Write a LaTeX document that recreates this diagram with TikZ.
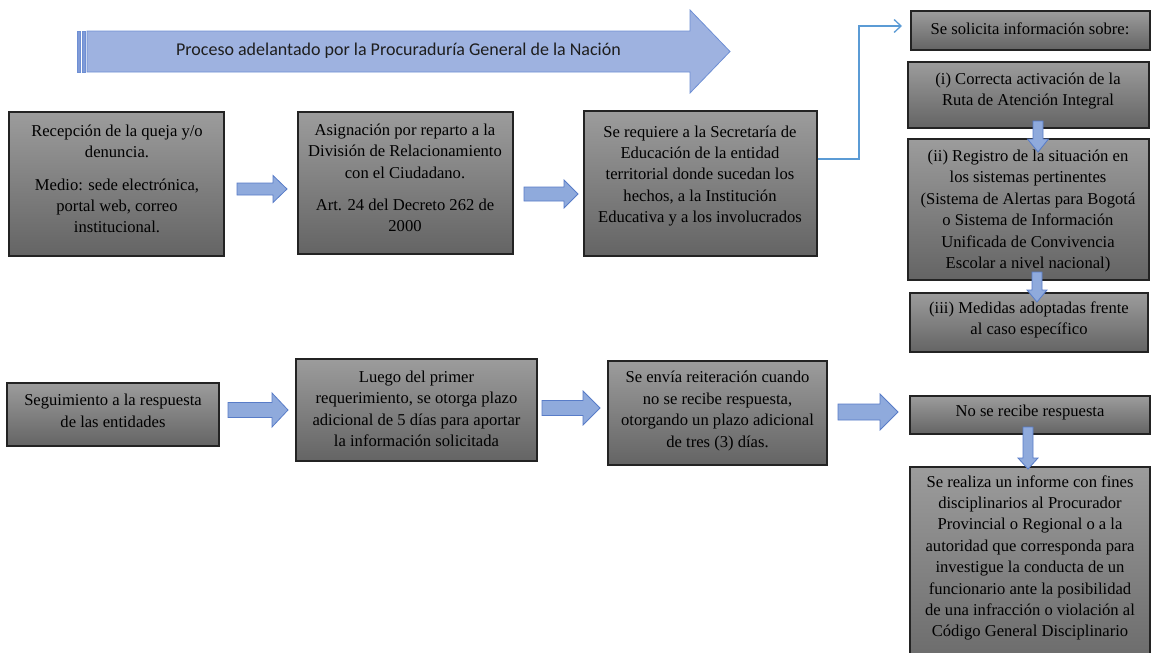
\documentclass[tikz,border=0pt]{standalone}
\usepackage{fontspec}
\setmainfont{Liberation Serif}
\newfontfamily\calfont{Carlito}
\usetikzlibrary{arrows.meta,calc}
\definecolor{boxline}{RGB}{35,35,35}
\definecolor{boxtop}{RGB}{156,156,156}
\definecolor{boxbot}{RGB}{100,100,100}
\definecolor{arrfill}{RGB}{143,170,220}
\definecolor{arrline}{RGB}{88,124,200}
\definecolor{bigfill}{RGB}{158,178,224}
\definecolor{bigline}{RGB}{110,143,212}
\definecolor{stripefill}{RGB}{128,155,215}
\definecolor{connc}{RGB}{91,155,213}
\tikzset{
  gbox/.style={draw=boxline, line width=1.3pt, top color=boxtop, bottom color=boxbot, inner sep=0pt, rectangle},
  txt/.style={font=\fontsize{16.6}{21.4}\selectfont, align=center, inner sep=0pt, text=black},
  barrow/.style={draw=arrline, fill=arrfill, line width=0.8pt, line join=miter},
  conn/.style={draw=connc, line width=1.3pt, -{Straight Barb[length=7pt,width=13pt,line width=1.3pt]}},
}
\newcommand\mkbox[5]{\node[gbox, minimum width={#4-#2}, minimum height={#5-#3}] (#1) at ({(#2+#4)/2},{(#3+#5)/2}) {};}
\newcommand\harrow[6]{\draw[barrow] (#1,{#3-#4}) -- ({#2-#6},{#3-#4}) -- ({#2-#6},{#3-#5}) -- (#2,#3) -- ({#2-#6},{#3+#5}) -- ({#2-#6},{#3+#4}) -- (#1,{#3+#4}) -- cycle;}
\newcommand\varrow[6]{\draw[barrow] ({#3-#4},#1) -- ({#3-#4},{#2-#6}) -- ({#3-#5},{#2-#6}) -- (#3,#2) -- ({#3+#5},{#2-#6}) -- ({#3+#4},{#2-#6}) -- ({#3+#4},#1) -- cycle;}
\begin{document}
\begin{tikzpicture}[x=1pt,y=-1pt]
\useasboundingbox (0,0) rectangle (1151,653);
\clip (0,0) rectangle (1151,653);
\fill[white] (0,0) rectangle (1151,653);
% top process arrow
\draw[draw=bigline, fill=stripefill, line width=0.8pt] (77,31) rectangle (80,72);
\draw[draw=bigline, fill=stripefill, line width=0.8pt] (82,31) rectangle (85,72);
\draw[draw=bigline, fill=bigfill, line width=0.8pt, line join=miter] (87,31) -- (690,31) -- (690,10) -- (730,51.5) -- (690,93) -- (690,72) -- (87,72) -- cycle;
\node[font=\calfont\fontsize{18}{22}\selectfont, text={rgb,255:red,30;green,30;blue,30}, inner sep=0pt] (title) at (398.5,51) {Proceso adelantado por la Procuraduría General de la Nación};
% row 1 boxes
\mkbox{A}{9}{112}{224}{256}
\mkbox{B}{298}{112}{513}{254}
\mkbox{C}{584}{111}{817}{256}
\mkbox{D}{911}{11}{1150}{50}
\mkbox{I}{908}{62}{1149}{128}
\mkbox{II}{908}{139}{1149}{280}
\mkbox{III}{910}{293}{1148}{352}
% row 2 boxes
\mkbox{S}{7}{383}{219}{446}
\mkbox{L}{296}{359}{537}{461}
\mkbox{E}{608}{361}{827}{465}
\mkbox{N}{910}{396}{1150}{434}
\mkbox{F}{910}{467}{1150}{690}
% texts
\node[txt] (At) at (117,179) {Recepción de la queja y/o\\ denuncia.\\[11pt] Medio: sede electrónica,\\ portal web, correo\\ institucional.};
\node[txt] (Bt) at (405,178) {Asignación por reparto a la\\ División de Relacionamiento\\ con el Ciudadano.\\[11pt] Art. 24 del Decreto 262 de\\ 2000};
\node[txt] (Ct) at (700,176) {Se requiere a la Secretaría de\\ Educación de la entidad\\ territorial donde sucedan los\\ hechos, a la Institución\\ Educativa y a los involucrados};
\node[txt] (Dt) at (1030,29) {Se solicita información sobre:};
\node[txt] (It) at (1028,91) {(i) Correcta activación de la\\ Ruta de Atención Integral};
\node[txt] (IIt) at (1028,211) {(ii) Registro de la situación en\\ los sistemas pertinentes\\ (Sistema de Alertas para Bogotá\\ o Sistema de Información\\ Unificada de Convivencia\\ Escolar a nivel nacional)};
\node[txt] (IIIt) at (1029,320) {(iii) Medidas adoptadas frente\\ al caso específico};
\node[txt] (St) at (113,411) {Seguimiento a la respuesta\\ de las entidades};
\node[txt] (Lt) at (416.5,409) {Luego del primer\\ requerimiento, se otorga plazo\\ adicional de 5 días para aportar\\ la información solicitada};
\node[txt] (Et) at (717.5,411) {Se envía reiteración cuando\\ no se recibe respuesta,\\ otorgando un plazo adicional\\ de tres (3) días.};
\node[txt] (Nt) at (1030,413) {No se recibe respuesta};
\node[txt] (Ft) at (1030,558) {Se realiza un informe con fines\\ disciplinarios al Procurador\\ Provincial o Regional o a la\\ autoridad que corresponda para\\ investigue la conducta de un\\ funcionario ante la posibilidad\\ de una infracción o violación al\\ Código General Disciplinario};
% block arrows
\harrow{237}{287}{189}{6}{13.5}{14}
\harrow{524}{578}{194}{7}{14}{14}
\harrow{228}{288}{410}{7.5}{17}{16}
\harrow{542}{600}{408}{7.5}{17}{17}
\harrow{838}{898}{412}{8}{18}{18}
\varrow{121}{152}{1038}{5}{10.5}{13}
\varrow{272}{302}{1037}{5}{10}{12}
\varrow{427}{469}{1028}{5}{10}{11}
% thin connector
\coordinate (dend) at (902,26);
\draw[conn] ([yshift=24.5pt]C.east) -| ($(dend)+(-43,0)$) -- (dend);
\end{tikzpicture}
\end{document}
